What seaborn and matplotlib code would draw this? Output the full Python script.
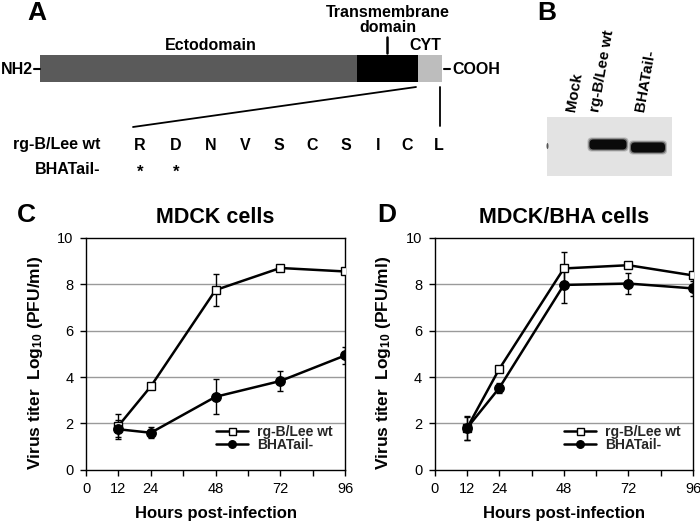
import matplotlib
matplotlib.use("Agg")
import matplotlib.pyplot as plt
import matplotlib.patches as mpatches
import pandas as pd
import seaborn as sns
import numpy as np

sns.set_theme(style="white")
plt.rcParams['font.family'] = ['Liberation Sans', 'DejaVu Sans']
plt.rcParams['mathtext.fontset'] = 'custom'
plt.rcParams['mathtext.rm'] = 'Liberation Sans:bold'
plt.rcParams['mathtext.bf'] = 'Liberation Sans:bold'
plt.rcParams['mathtext.default'] = 'bf'

# ---------------- data ----------------
hours = [12, 24, 48, 72, 96]

c_wt = [1.9, 3.6, 7.75, 8.7, 8.55]
c_wt_err = [0.5, 0.1, 0.67, 0.05, 0.05]
c_tail = [1.75, 1.6, 3.15, 3.83, 4.93]
c_tail_err = [0.4, 0.23, 0.75, 0.45, 0.37]

d_wt = [1.8, 4.35, 8.68, 8.82, 8.38]
d_wt_err = [0.52, 0.1, 0.7, 0.05, 0.1]
d_tail = [1.8, 3.53, 7.97, 8.03, 7.82]
d_tail_err = [0.5, 0.2, 0.76, 0.47, 0.33]

series_names = ['rg-B/Lee wt', 'BHATail-']

# protein diagram (relative domain lengths) and cytoplasmic tail sequence
domain_names = ['Ectodomain', 'Transmembrane domain', 'CYT']
domain_len = [317, 61, 24]
domain_colors = ['#5a5a5a', '#000000', '#bdbdbd']
wt_seq = ['R', 'D', 'N', 'V', 'S', 'C', 'S', 'I', 'C', 'L']
tail_seq = ['*', '*', '', '', '', '', '', '', '', '']

# western blot lanes
lanes = ['Mock', 'rg-B/Lee wt', 'BHATail-']
band_signal = [0, 1, 1]
band_shift = [0, 0, 3]

fig = plt.figure(figsize=(7, 5.25), dpi=100)

# ---------------- overlay axes for A and B (pixel coords) ----------------
ov = fig.add_axes([0, 0, 1, 1], zorder=-1)
ov.set_xlim(0, 700)
ov.set_ylim(525, 0)
ov.axis('off')

bold = dict(fontweight='bold', color='black')
fs = 11.5

# panel letters
ov.text(27, 1, 'A', fontsize=19, va='top', **bold)
ov.text(537, 1, 'B', fontsize=19, va='top', **bold)
ov.text(17, 203, 'C', fontsize=19, va='top', **bold)
ov.text(377, 203, 'D', fontsize=19, va='top', **bold)

# protein bar
x0 = 40
starts = np.concatenate([[0], np.cumsum(domain_len)[:-1]]) + x0
for s, w, c in zip(starts, domain_len, domain_colors):
    ov.add_patch(mpatches.Rectangle((s, 55), w, 27, facecolor=c, edgecolor='none'))
ov.plot([34, 40], [69, 69], color='black', lw=1.5)
ov.text(33, 70, 'NH2', ha='right', va='center', fontsize=fs, **bold)
ov.plot([444, 450], [69, 69], color='black', lw=1.5)
ov.text(452, 70, 'COOH', ha='left', va='center', fontsize=fs, **bold)
ov.text(starts[0] + domain_len[0] * 0.54, 46, domain_names[0], ha='center',
        va='center', fontsize=fs, **bold)
ov.text(388, 20, 'Transmembrane\ndomain', ha='center', va='center',
        fontsize=fs, linespacing=1.0, **bold)
ov.plot([387, 387], [37, 53], color='black', lw=1.8)
ov.text(starts[2] + 7, 46, domain_names[2], ha='center', va='center',
        fontsize=fs, **bold)

# zoom lines to the tail sequence
ov.plot([416, 133], [87, 127], color='black', lw=1.3)
ov.plot([440, 440], [87, 126], color='black', lw=1.3)

seq_x = [140, 176, 211, 245, 279, 312, 346, 378, 407, 439]
ov.text(100, 145, 'rg-B/Lee wt', ha='right', va='center', fontsize=fs, **bold)
ov.text(100, 170, 'BHATail-', ha='right', va='center', fontsize=fs, **bold)
for xx, a, b in zip(seq_x, wt_seq, tail_seq):
    ov.text(xx, 145, a, ha='center', va='center', fontsize=fs, **bold)
    if b:
        ov.text(xx, 172, b, ha='center', va='center', fontsize=12, **bold)

# western blot
ov.add_patch(mpatches.Rectangle((547, 117), 125, 59, facecolor='#e3e3e3',
                                edgecolor='none'))
lane_x = [571, 607, 647]
label_x = [574, 602, 645]
for lx, tx, name, sig, sh in zip(lane_x, label_x, lanes, band_signal, band_shift):
    ov.text(tx, 113, name, rotation=80, ha='center', va='bottom',
            fontsize=11, **bold)
    if sig:
        w = 34 if sh == 0 else 31
        # soft halo then solid core to mimic a blurry band
        for pad, col in [(3.5, '#b5b5b5'), (2.5, '#707070'), (1.5, '#0a0a0a')]:
            ov.add_patch(mpatches.FancyBboxPatch((lx - w / 2 + 1, 141 + sh), w, 7,
                                                 boxstyle='round,pad=%s,rounding_size=4' % pad,
                                                 facecolor=col, edgecolor='none'))
ov.add_patch(mpatches.Ellipse((547.5, 146), 2, 6, facecolor='#555555', edgecolor='none'))


# ---------------- growth curves ----------------
def growth_panel(rect, title, wt, wt_err, tail, tail_err):
    ax = fig.add_axes(rect)
    df = pd.DataFrame({'hours': hours * 2,
                       'titer': wt + tail,
                       'err': wt_err + tail_err,
                       'virus': [series_names[0]] * len(hours) + [series_names[1]] * len(hours)})
    for name, mk, fc in zip(series_names, ['s', 'o'], ['white', 'black']):
        sub = df[df['virus'] == name]
        ax.errorbar(sub['hours'], sub['titer'], yerr=sub['err'], fmt='none',
                    ecolor='black', elinewidth=1, capsize=2, zorder=2)
        sns.lineplot(data=sub, x='hours', y='titer', ax=ax, color='black',
                     lw=1.8, marker=mk, markersize=6.3 if mk == 's' else 6.8,
                     markerfacecolor=fc, markeredgecolor='black',
                     markeredgewidth=1, label=name, zorder=3)
    ax.set_xlim(0, 96)
    ax.set_ylim(0, 10)
    ax.set_xticks(np.arange(0, 97, 12))
    ax.set_xticklabels(['0', '12', '24', '', '48', '', '72', '', '96'])
    ax.set_yticks([0, 2, 4, 6, 8, 10])
    ax.set_yticklabels(['0', '2', '4', '6', '8', '10'])
    for yv in [2, 4, 6, 8]:
        ax.axhline(yv, color='#9a9a9a', lw=1, zorder=1)
    for sp in ax.spines.values():
        sp.set_color('black')
        sp.set_linewidth(1)
    ax.tick_params(axis='both', direction='out', length=4, width=1,
                   color='black', labelsize=10.5, labelcolor='black',
                   bottom=True, left=True, pad=5)
    ax.set_xlabel('Hours post-infection', fontsize=12, fontweight='bold',
                  labelpad=7, color='black')
    ax.set_ylabel(r'Virus titer  Log$_{10}$ (PFU/ml)', fontsize=12.5,
                  fontweight='bold', labelpad=7, color='black')
    ax.yaxis.set_label_coords(-0.16, 0.46)
    ax.set_title(title, fontsize=15.5, fontweight='bold', pad=11, color='black')
    leg = ax.legend(loc='lower right', frameon=False, handlelength=2.3,
                    handletextpad=0.7, labelspacing=-0.1, fontsize=10,
                    markerscale=0.8,
                    bbox_to_anchor=(0.975, 0.055), borderaxespad=0)
    for t in leg.get_texts():
        t.set_fontweight('bold')
    ax.grid(False)
    return ax


growth_panel([0.123, 0.105, 0.370, 0.442], 'MDCK cells', c_wt, c_wt_err, c_tail, c_tail_err)
growth_panel([0.621, 0.105, 0.369, 0.442], 'MDCK/BHA cells', d_wt, d_wt_err, d_tail, d_tail_err)

fig.savefig('out.png', dpi=100, facecolor='white')
